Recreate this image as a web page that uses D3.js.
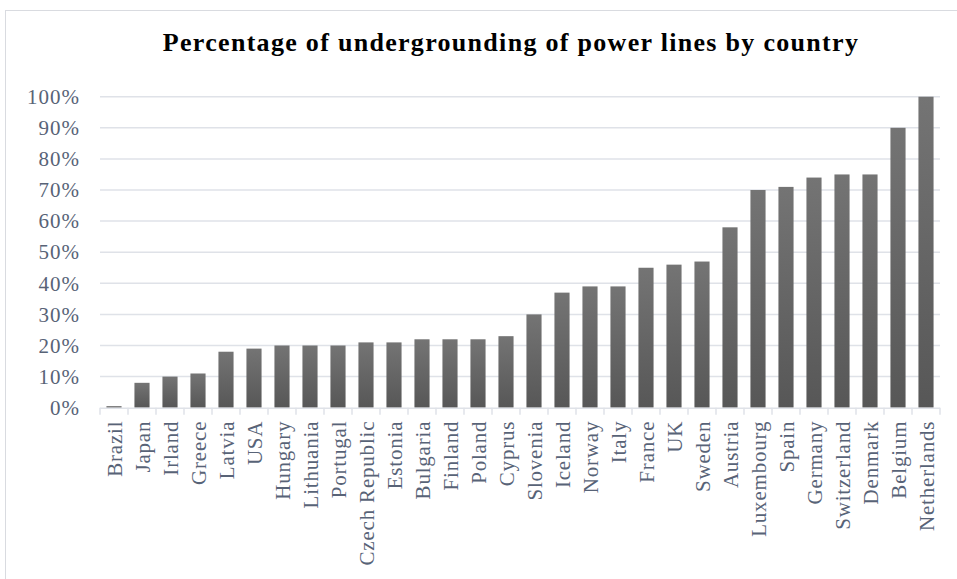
<!DOCTYPE html>
<html>
<head>
<meta charset="utf-8">
<script src="https://cdn.jsdelivr.net/npm/d3@7/dist/d3.min.js"></script>
<style>
  html, body { margin: 0; padding: 0; background: #fff; }
  svg { display: block; }
  text { font-family: "Garamond", "Liberation Serif", "DejaVu Serif", serif; }
</style>
</head>
<body>
<svg id="chart" width="957" height="579"></svg>
<script>
// Share of power lines laid underground, by country
const countries = ["Brazil", "Japan", "Irland", "Greece", "Latvia", "USA", "Hungary", "Lithuania",
  "Portugal", "Czech Republic", "Estonia", "Bulgaria", "Finland", "Poland", "Cyprus", "Slovenia",
  "Iceland", "Norway", "Italy", "France", "UK", "Sweden", "Austria", "Luxembourg", "Spain",
  "Germany", "Switzerland", "Denmark", "Belgium", "Netherlands"];
const undergroundShare = [0.005, 0.08, 0.10, 0.11, 0.18, 0.19, 0.20, 0.20,
  0.20, 0.21, 0.21, 0.22, 0.22, 0.22, 0.23, 0.30,
  0.37, 0.39, 0.39, 0.45, 0.46, 0.47, 0.58, 0.70, 0.71,
  0.74, 0.75, 0.75, 0.90, 1.00];
const yTicks = [0, 0.1, 0.2, 0.3, 0.4, 0.5, 0.6, 0.7, 0.8, 0.9, 1.0];
const chartTitle = "Percentage of undergrounding of power lines by country";

const data = countries.map((c, i) => ({ country: c, value: undergroundShare[i] }));

const svg = d3.select("#chart");
const W = 957, H = 579;
const plot = { left: 100, right: 940, top: 96.7, bottom: 407.7 };
const labelColor = "#586377";
const gridColor = "#dfe2e8";

// outer chart frame
svg.append("rect")
  .attr("x", 5.5).attr("y", 10.5)
  .attr("width", W).attr("height", H)
  .attr("fill", "#fff").attr("stroke", "#d9dbe0").attr("stroke-width", 1);

// per-bar vertical gradient
const defs = svg.append("defs");
const grad = defs.append("linearGradient")
  .attr("id", "barGrad").attr("x1", 0).attr("y1", 0).attr("x2", 0).attr("y2", 1);
grad.append("stop").attr("offset", "0%").attr("stop-color", "#747474");
grad.append("stop").attr("offset", "100%").attr("stop-color", "#575757");

const x = d3.scaleBand()
  .domain(countries)
  .range([plot.left, plot.right])
  .paddingInner(0.46)
  .paddingOuter(0.23);

const y = d3.scaleLinear()
  .domain([0, 1])
  .range([plot.bottom, plot.top]);

// horizontal gridlines
svg.append("g")
  .selectAll("line")
  .data(yTicks.filter(t => t > 0))
  .join("line")
  .attr("x1", plot.left).attr("x2", plot.right)
  .attr("y1", d => y(d)).attr("y2", d => y(d))
  .attr("stroke", gridColor).attr("stroke-width", 1.5);

// y axis labels
const yAxis = d3.axisLeft(y)
  .tickValues(yTicks)
  .tickFormat(d3.format(".0%"))
  .tickSize(0)
  .tickPadding(20);
const yG = svg.append("g")
  .attr("transform", `translate(${plot.left},0)`)
  .call(yAxis);
yG.select(".domain").remove();
yG.selectAll("text")
  .attr("fill", labelColor)
  .style("font-size", "21px")
  .style("letter-spacing", "1px")
  .attr("dy", "0.32em");

// bars
svg.append("g")
  .selectAll("rect")
  .data(data)
  .join("rect")
  .attr("x", d => x(d.country))
  .attr("width", x.bandwidth())
  .attr("y", d => y(d.value))
  .attr("height", d => y(0) - y(d.value))
  .attr("fill", "url(#barGrad)");

// category axis line and boundary ticks
const step = x.step();
const bounds = d3.range(countries.length + 1).map(i => plot.left + i * step);
const axisG = svg.append("g");
axisG.append("line")
  .attr("x1", plot.left).attr("x2", plot.right)
  .attr("y1", plot.bottom + 0.5).attr("y2", plot.bottom + 0.5)
  .attr("stroke", gridColor).attr("stroke-width", 1.5);
axisG.selectAll("line.tick")
  .data(bounds)
  .join("line")
  .attr("class", "tick")
  .attr("x1", d => d).attr("x2", d => d)
  .attr("y1", plot.bottom).attr("y2", plot.bottom + 7)
  .attr("stroke", gridColor).attr("stroke-width", 1.5);

// rotated country labels
axisG.selectAll("text")
  .data(countries)
  .join("text")
  .attr("transform", d => `translate(${x(d) + x.bandwidth() / 2 + 1},${plot.bottom + 13}) rotate(-90)`)
  .attr("text-anchor", "end")
  .attr("dy", "0.35em")
  .attr("fill", labelColor)
  .style("font-size", "21px")
  .style("letter-spacing", "0.8px")
  .text(d => d);

// title
svg.append("text")
  .attr("x", 511).attr("y", 51)
  .attr("text-anchor", "middle")
  .attr("fill", "#000")
  .style("font-size", "26px")
  .style("font-weight", "bold")
  .style("letter-spacing", "1.3px")
  .text(chartTitle);
</script>
</body>
</html>
